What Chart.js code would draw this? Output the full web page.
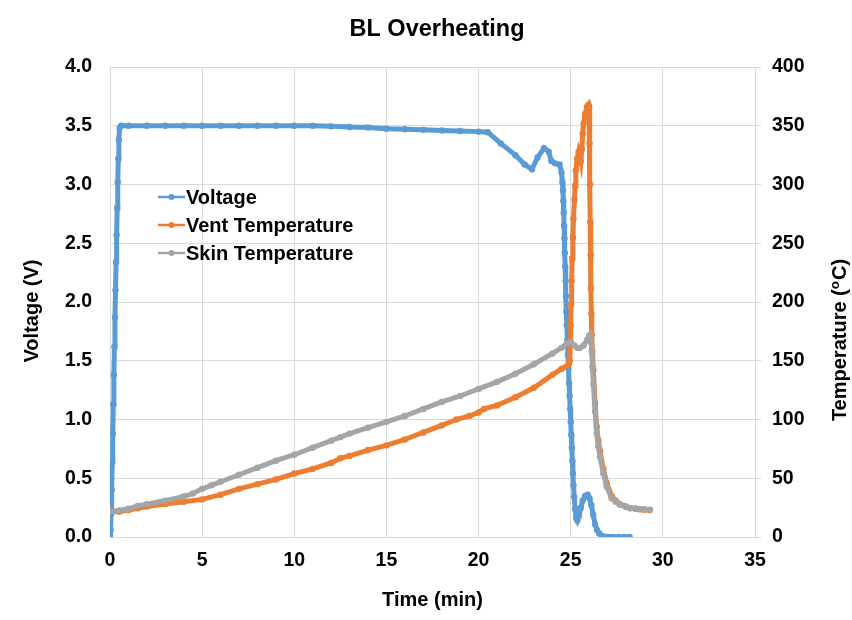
<!DOCTYPE html>
<html>
<head>
<meta charset="utf-8">
<script src="https://cdn.jsdelivr.net/npm/chart.js@4"></script>
<style>
html,body{margin:0;padding:0;background:#fff;}
canvas{display:block;}
</style>
</head>
<body>
<canvas id="c" width="852" height="620"></canvas>
<script>
// ---------- DATA ----------
const chartTitle = 'BL Overheating';
const xAxisTitle = 'Time (min)';
const yAxisTitle = 'Voltage (V)';
const y1AxisTitleParts = ['Temperature (', 'o', 'C)'];
const seriesNames = ['Voltage', 'Vent Temperature', 'Skin Temperature'];

const voltTime = [
  0,0.03,0.06,0.09,0.12,0.15,0.18,0.21,0.24,0.27,0.3,0.33,0.36,0.39,0.42,0.45,0.48,0.52,0.6,
  1,2,3,4,5,6,7,8,9,10,11,12,13,14,15,16,17,18,19,20,
  20.5,21.2,22,22.5,22.9,23.2,23.55,23.8,23.95,24.15,24.4,
  24.5,24.55,24.58,24.6,24.62,24.64,24.66,24.68,24.7,24.72,24.74,24.76,24.79,24.82,24.85,24.88,24.91,24.94,24.97,
  25.0,25.03,25.06,25.09,25.12,25.15,25.19,25.24,25.3,
  25.36,25.45,25.55,25.65,25.78,25.92,26.02,26.12,26.22,26.32,26.43,26.55,26.7,
  26.9,27.1,27.3,27.6,27.9,28.2
];
const voltage = [
  0,0.06,0.2,0.4,0.64,0.88,1.13,1.38,1.62,1.87,2.1,2.34,2.57,2.8,3.02,3.22,3.38,3.48,3.5,
  3.5,3.5,3.5,3.5,3.5,3.5,3.5,3.5,3.5,3.5,3.5,3.495,3.49,3.485,3.475,3.47,3.465,3.46,3.455,3.45,
  3.445,3.35,3.25,3.17,3.13,3.23,3.31,3.28,3.2,3.18,3.17,
  3.1,3.02,2.95,2.86,2.76,2.65,2.54,2.42,2.3,2.18,2.05,1.92,1.8,1.68,1.55,1.43,1.31,1.2,1.09,
  0.98,0.87,0.76,0.65,0.54,0.44,0.34,0.24,0.16,
  0.14,0.18,0.25,0.31,0.35,0.36,0.33,0.27,0.19,0.11,0.06,0.03,0.01,
  0,0,0,0,0,0
];

const ventTime = [
  0,0.5,1,1.5,2,3,4,5,6,7,8,9,10,11,12,12.5,13,14,15,16,17,18,18.8,19.5,20,20.3,21,22,23,24,24.5,24.9,
  24.95,24.98,25.0,25.02,25.05,25.08,25.12,25.15,25.2,25.24,25.28,25.35,25.43,25.5,25.55,25.6,25.65,25.7,25.78,25.88,25.97,
  26.0,26.02,26.04,26.06,26.08,26.1,26.12,26.14,26.18,26.23,26.32,26.41,26.5,26.59,26.77,26.95,27.22,27.45,27.67,28.0,28.22,28.5,28.76,29.0,29.3
];
const ventTemp = [
  22,21.5,23,24.5,26,28,30,32,36,41,45,49,54,58,63,67,69,74,78,83,89,95,100,103,106,109,112,119,127,138,143,147,
  150,165,180,198,218,237,255,271,287,299,312,322,328,324,320,330,343,352,360,366,368,
  366,335,300,268,240,212,190,172,158,142,114,94,82,73,58,46,35,31,28,26,24.5,24,23.5,23.2,23
];

const skinTime = [
  0,0.5,1,1.5,2,3,4,4.5,5,5.5,6,7,8,9,10,11,12,12.5,13,14,15,16,17,18,19,20,21,22,23,24,24.5,24.8,
  25.0,25.2,25.35,25.5,25.7,25.9,26.0,26.05,
  26.1,26.14,26.18,26.23,26.32,26.41,26.5,26.59,26.77,26.95,27.22,27.45,27.67,28.0,28.22,28.5,28.76,29.0,29.3
];
const skinTemp = [
  22,22.5,24,26.5,28,31,34.5,37,41,44,47,53,59,65,70,76,82,85,88,93,98,103,109,115,120,126,132,139,147,156,161,165,
  166,163,161,161,163,168,171,172,
  166,158,145,130,107,88,77,68,54,43,33,30,27.5,25.5,24.7,24.2,23.9,23.6,23.3
];

const xTickStep = 5, xMin = 0, xMax = 35;
const yTickStep = 0.5, yMin = 0, yMax = 4;
const y1TickStep = 50, y1Min = 0, y1Max = 400;

// ---------- STYLE ----------
const FONT = '"Liberation Sans", Arial, Helvetica, sans-serif';
const colors = ['#5B9BD5', '#ED7D31', '#A5A5A5'];
const gridColor = '#d9d9d9';

function pts(xs, ys) {
  const n = Math.min(xs.length, ys.length);
  const out = [];
  for (let i = 0; i < n; i++) out.push({x: xs[i], y: ys[i]});
  return out;
}

function ds(label, data, color, axis, order) {
  return {
    label, data, yAxisID: axis, order,
    showLine: true, borderColor: color, backgroundColor: color,
    borderWidth: 5, pointRadius: 3.2, pointBorderWidth: 0, pointHoverRadius: 3,
    tension: 0
  };
}

const overlay = {
  id: 'overlay',
  afterDraw(chart) {
    const ctx = chart.ctx;
    const a = chart.chartArea;
    ctx.save();
    ctx.fillStyle = '#000';
    // chart title
    ctx.font = 'bold 23.5px ' + FONT;
    ctx.textAlign = 'center';
    ctx.textBaseline = 'alphabetic';
    ctx.fillText(chartTitle, 437, 36);
    // x title
    ctx.font = 'bold 20px ' + FONT;
    ctx.textBaseline = 'middle';
    ctx.fillText(xAxisTitle, (a.left + a.right) / 2, 600);
    // left y title
    ctx.save();
    ctx.translate(32, 311);
    ctx.rotate(-Math.PI / 2);
    ctx.fillText(yAxisTitle, 0, 0);
    ctx.restore();
    // right y title with superscript o
    ctx.save();
    ctx.translate(840, 340);
    ctx.rotate(-Math.PI / 2);
    const big = 'bold 20px ' + FONT, small = 'bold 13.5px ' + FONT;
    ctx.font = big; const w0 = ctx.measureText(y1AxisTitleParts[0]).width;
    const w2 = ctx.measureText(y1AxisTitleParts[2]).width;
    ctx.font = small; const w1 = ctx.measureText(y1AxisTitleParts[1]).width + 1;
    const total = w0 + w1 + w2;
    let x = -total / 2;
    ctx.textAlign = 'left';
    ctx.textBaseline = 'middle';
    ctx.font = big; ctx.fillText(y1AxisTitleParts[0], x, 0); x += w0;
    ctx.font = small; ctx.fillText(y1AxisTitleParts[1], x, -5); x += w1;
    ctx.font = big; ctx.fillText(y1AxisTitleParts[2], x, 0);
    ctx.restore();
    // legend
    const lx = a.left + 48, ly = a.top + 130, gap = 28;
    seriesNames.forEach((name, i) => {
      const y = ly + i * gap;
      ctx.strokeStyle = colors[i];
      ctx.lineWidth = 2.5;
      ctx.beginPath(); ctx.moveTo(lx, y); ctx.lineTo(lx + 27, y); ctx.stroke();
      ctx.fillStyle = colors[i];
      ctx.beginPath(); ctx.arc(lx + 13.5, y, 3, 0, Math.PI * 2); ctx.fill();
      ctx.fillStyle = '#000';
      ctx.font = 'bold 20px ' + FONT;
      ctx.textAlign = 'left';
      ctx.textBaseline = 'middle';
      ctx.fillText(name, lx + 28, y + 1);
    });
    ctx.restore();
  }
};

const tickFont = {family: FONT, size: 19.5, weight: 'bold'};

new Chart(document.getElementById('c'), {
  type: 'scatter',
  data: {
    datasets: [
      ds(seriesNames[0], pts(voltTime, voltage), colors[0], 'y', 3),
      ds(seriesNames[1], pts(ventTime, ventTemp), colors[1], 'y1', 2),
      ds(seriesNames[2], pts(skinTime, skinTemp), colors[2], 'y1', 1)
    ]
  },
  options: {
    responsive: false,
    animation: false,
    devicePixelRatio: 1,
    layout: {padding: {top: 67, left: 0, right: 0, bottom: 0}},
    plugins: {legend: {display: false}, title: {display: false}, tooltip: {enabled: false}},
    scales: {
      x: {
        type: 'linear', min: xMin, max: xMax,
        ticks: {stepSize: xTickStep, font: tickFont, color: '#000', padding: 12, maxRotation: 0},
        grid: {color: gridColor, drawTicks: false, lineWidth: 1},
        border: {display: true, color: gridColor},
        afterFit(s) { s.height = 83; }
      },
      y: {
        type: 'linear', position: 'left', min: yMin, max: yMax,
        ticks: {stepSize: yTickStep, font: tickFont, color: '#000', padding: 18,
          callback: v => Number(v).toFixed(1)},
        grid: {color: gridColor, drawTicks: false, lineWidth: 1},
        border: {display: true, color: gridColor},
        afterFit(s) { s.width = 110; }
      },
      y1: {
        type: 'linear', position: 'right', min: y1Min, max: y1Max,
        ticks: {stepSize: y1TickStep, font: tickFont, color: '#000', padding: 11},
        grid: {drawOnChartArea: false, drawTicks: true, tickLength: 6, color: gridColor},
        border: {display: false},
        afterFit(s) { s.width = 97; }
      }
    }
  },
  plugins: [overlay]
});
</script>
</body>
</html>
